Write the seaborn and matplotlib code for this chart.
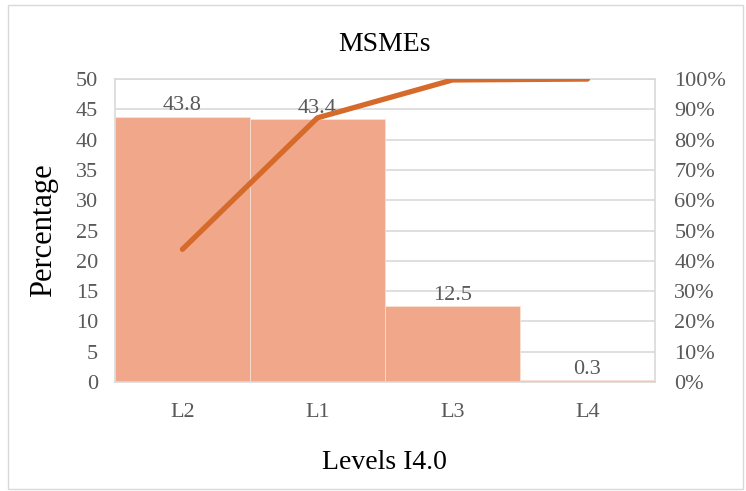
import matplotlib
matplotlib.use("Agg")
import matplotlib.pyplot as plt
import seaborn as sns
import pandas as pd
from matplotlib.ticker import PercentFormatter
from matplotlib.patches import Rectangle

categories = ["L2", "L1", "L3", "L4"]
percentages = [43.8, 43.4, 12.5, 0.3]
cumulative = [43.8, 87.2, 99.7, 100.0]
left_ticks = [0, 5, 10, 15, 20, 25, 30, 35, 40, 45, 50]
right_ticks = [0, 10, 20, 30, 40, 50, 60, 70, 80, 90, 100]

sns.set_theme(style="white")
plt.rcParams["font.family"] = ["Liberation Serif", "DejaVu Serif"]

BAR = "#F1A88A"
LINE = "#D66A2B"
GRID = "#D9D9D9"
TXT = "#595959"

fig = plt.figure(figsize=(7.46, 4.91), dpi=100)
ax = fig.add_axes([0.154, 0.222, 0.724, 0.617])

df = pd.DataFrame({"Level": categories, "Percentage": percentages})
sns.barplot(data=df, x="Level", y="Percentage", ax=ax, color=BAR, width=1.0,
            saturation=1, edgecolor="#FBE3D9", linewidth=0.5, zorder=2)
ax.set_ylim(0, 50)
ax.set_yticks(left_ticks)
ax.set_xlim(-0.5, 3.5)
ax.yaxis.grid(True, color=GRID, linewidth=1.2, zorder=0)
ax.set_axisbelow(True)
for s in ax.spines.values():
    s.set_color(GRID)
    s.set_linewidth(1.2)
ax.tick_params(axis="both", length=0, labelsize=16, colors=TXT, pad=12)
ax.tick_params(axis="x", pad=15)
ax.set_xlabel("Levels I4.0", fontsize=20, color="black")
ax.set_ylabel("Percentage", fontsize=22, color="black")
ax.xaxis.set_label_coords(0.5, -0.225)
ax.yaxis.set_label_coords(-0.105, 0.5)
ax.set_title("MSMEs", fontsize=20, color="black", pad=20)

for c in ax.containers:
    ax.bar_label(c, fmt="%.1f", fontsize=16, color=TXT, padding=1)

ax2 = ax.twinx()
sns.lineplot(x=list(range(len(categories))), y=cumulative, ax=ax2, color=LINE,
             linewidth=3.8, sort=False, zorder=3)
ax2.set_ylim(0, 100)
ax2.set_yticks(right_ticks)
ax2.yaxis.set_major_formatter(PercentFormatter(decimals=0))
ax2.tick_params(axis="y", length=0, labelsize=16, colors=TXT, pad=14)
for s in ax2.spines.values():
    s.set_visible(False)
ax2.grid(False)
ax2.set_xlim(-0.5, 3.5)

fig.patches.append(Rectangle((0.011, 0.004), 0.985, 0.985, transform=fig.transFigure,
                             fill=False, edgecolor="#D9D9D9", linewidth=1))

fig.savefig("out.png", dpi=100)
